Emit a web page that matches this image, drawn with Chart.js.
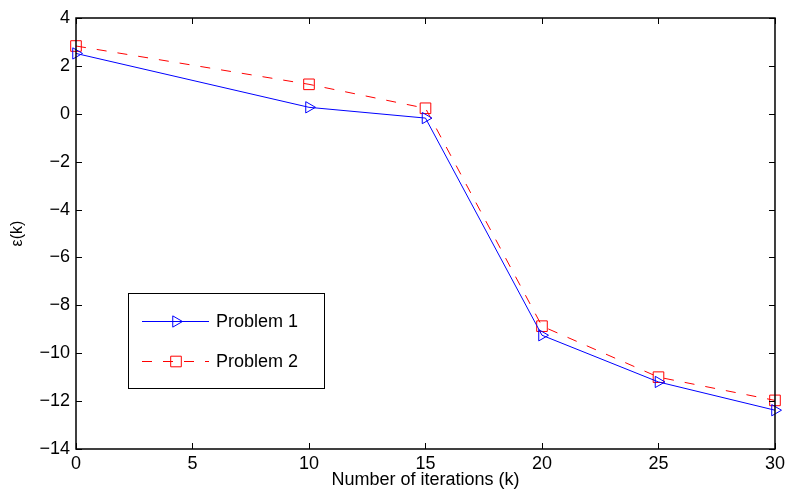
<!DOCTYPE html>
<html>
<head>
<meta charset="utf-8">
<script src="https://cdn.jsdelivr.net/npm/chart.js@4"></script>
<style>
    html, body { margin: 0; padding: 0; background: #fff; }
    #wrap { width: 789px; height: 492px; }
</style>
</head>
<body>
<div id="wrap"><canvas id="chart" width="789" height="492"></canvas></div>
<script>
var iterations = [0, 10, 15, 20, 25, 30];
var problem1 = [2.52, 0.27, -0.18, -9.25, -11.2, -12.38];
var problem2 = [2.83, 1.23, 0.23, -8.87, -11.0, -11.97];
var seriesNames = ['Problem 1', 'Problem 2'];

var FONT = 'Liberation Sans, Arial, sans-serif';
var BLUE = '#0000ff';
var RED = '#ff0000';
var DASH = [10, 11];

function toPoints(ys) {
    var pts = [];
    for (var i = 0; i < iterations.length; i++) pts.push({ x: iterations[i], y: ys[i] });
    return pts;
}

var legendRows = [
    { color: BLUE, dash: [], style: 'triangle', rot: 90, r: 6.5, y: 321 },
    { color: RED, dash: DASH, style: 'rect', rot: 0, r: 7.5, y: 361 }
];

// inward ticks on all four sides, the box, and the boxed legend
var matlabBox = {
    id: 'matlabBox',
    afterDraw: function (chart) {
        var ctx = chart.ctx, a = chart.chartArea;
        var xs = chart.scales.x, ys = chart.scales.y;
        ctx.save();
        ctx.strokeStyle = '#000';
        ctx.lineWidth = 1;
        ctx.beginPath();
        xs.ticks.forEach(function (t) {
            var px = Math.round(xs.getPixelForValue(t.value)) + 0.5;
            ctx.moveTo(px, a.bottom); ctx.lineTo(px, a.bottom - 6);
            ctx.moveTo(px, a.top); ctx.lineTo(px, a.top + 6);
        });
        ys.ticks.forEach(function (t) {
            var py = Math.round(ys.getPixelForValue(t.value)) + 0.5;
            ctx.moveTo(a.left, py); ctx.lineTo(a.left + 6, py);
            ctx.moveTo(a.right, py); ctx.lineTo(a.right - 6, py);
        });
        ctx.stroke();
        ctx.lineWidth = 1.5;
        ctx.strokeRect(a.left, a.top, a.right - a.left, a.bottom - a.top);

        // legend
        ctx.fillStyle = '#fff';
        ctx.fillRect(128, 293, 196, 95);
        ctx.strokeStyle = '#000';
        ctx.lineWidth = 1;
        ctx.strokeRect(128.5, 293.5, 196, 95);
        legendRows.forEach(function (row, i) {
            var y = row.y + 0.5;
            ctx.save();
            ctx.strokeStyle = row.color;
            ctx.lineWidth = 1;
            ctx.setLineDash(row.dash);
            ctx.beginPath();
            ctx.moveTo(142, y); ctx.lineTo(209, y);
            ctx.stroke();
            ctx.restore();
            ctx.save();
            ctx.setLineDash([]);
            ctx.fillStyle = 'rgba(0,0,0,0)';
            ctx.strokeStyle = row.color;
            ctx.lineWidth = 1;
            Chart.helpers.drawPoint(ctx, { pointStyle: row.style, rotation: row.rot, radius: row.r, borderWidth: 1 }, 176, y);
            ctx.restore();
            ctx.fillStyle = '#000';
            ctx.font = '18px ' + FONT;
            ctx.textBaseline = 'middle';
            ctx.textAlign = 'left';
            ctx.fillText(seriesNames[i], 216, row.y + 1);
        });
        ctx.restore();
    }
};

new Chart(document.getElementById('chart'), {
    type: 'line',
    data: {
        datasets: [{
            label: seriesNames[0],
            data: toPoints(problem1),
            borderColor: BLUE,
            borderWidth: 1,
            pointStyle: 'triangle',
            pointRotation: 90,
            pointRadius: 6.5,
            pointBorderWidth: 1,
            pointBackgroundColor: 'rgba(0,0,0,0)',
            pointBorderColor: BLUE,
            fill: false,
            tension: 0
        }, {
            label: seriesNames[1],
            data: toPoints(problem2),
            borderColor: RED,
            borderWidth: 1,
            borderDash: DASH,
            pointStyle: 'rect',
            pointRadius: 7.5,
            pointBorderWidth: 1,
            pointBackgroundColor: 'rgba(0,0,0,0)',
            pointBorderColor: RED,
            fill: false,
            tension: 0
        }]
    },
    options: {
        responsive: false,
        animation: false,
        clip: false,
        layout: { padding: { top: 18, right: 10, left: 0, bottom: 0 } },
        plugins: { legend: { display: false }, tooltip: { enabled: false } },
        scales: {
            x: {
                type: 'linear',
                min: 0, max: 30,
                grid: { display: false, drawTicks: false },
                border: { display: false },
                ticks: { stepSize: 5, color: '#000', font: { size: 18, family: FONT }, padding: 4, maxRotation: 0 },
                title: { display: true, text: 'Number of iterations (k)', color: '#000', font: { size: 18, family: FONT }, padding: { top: 0, bottom: 1 } },
                afterFit: function (s) { s.height = 43; }
            },
            y: {
                min: -14, max: 4,
                grid: { display: false, drawTicks: false },
                border: { display: false },
                ticks: {
                    stepSize: 2, color: '#000', font: { size: 18, family: FONT }, padding: 6,
                    callback: function (v) { return String(v).replace('-', '\u2212'); }
                },
                title: { display: true, text: '\u03b5(k)', color: '#000', font: { size: 16, family: FONT }, padding: { top: 8, bottom: 0 } },
                afterFit: function (s) { s.width = 76; }
            }
        }
    },
    plugins: [matlabBox]
});
</script>
</body>
</html>
